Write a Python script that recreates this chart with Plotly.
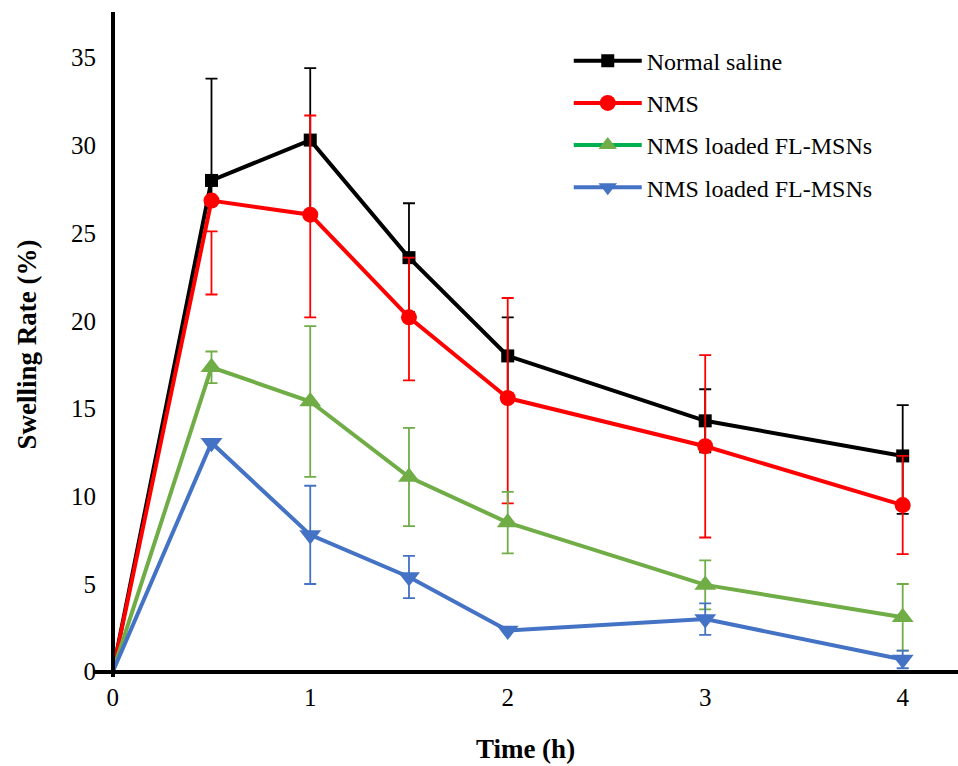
import plotly.graph_objects as go

time_h = [0, 0.5, 1, 1.5, 2, 3, 4]

saline = [0, 28.0, 30.3, 23.6, 18.0, 14.3, 12.3]
saline_err_plus = [0, 5.8, 4.1, 3.1, 2.2, 1.8, 2.9]
saline_err_minus = [0, 1.0, 4.1, 3.1, 2.2, 1.8, 3.3]

nms = [0, 26.85, 26.05, 20.2, 15.6, 12.85, 9.5]
nms_err_plus = [0, -1.75, 5.65, 3.4, 5.7, 5.2, 2.8]
nms_err_minus = [0, 5.35, 5.85, 3.6, 6.0, 5.2, 2.8]

fl_msns_a = [0, 17.35, 15.4, 11.1, 8.5, 4.95, 3.1]
fl_msns_a_err = [0, 0.9, 4.3, 2.8, 1.75, 1.4, 1.9]

fl_msns_b = [0, 13.05, 7.8, 5.4, 2.35, 3.0, 0.7]
fl_msns_b_err = [0, 0, 2.8, 1.2, 0, 0.9, 0.5]

names = ["Normal saline", "NMS", "NMS loaded FL-MSNs", "NMS loaded FL-MSNs"]
line_colors = ["#000000", "#FF0000", "#70AD47", "#4472C4"]
legend_line_colors = ["#000000", "#FF0000", "#00B050", "#4472C4"]
symbols = ["square", "circle", "triangle-up", "triangle-down"]
msizes = [13, 16, 19, 19]

series = [
    (saline, saline_err_plus, saline_err_minus),
    (nms, nms_err_plus, nms_err_minus),
    (fl_msns_a, fl_msns_a_err, fl_msns_a_err),
    (fl_msns_b, fl_msns_b_err, fl_msns_b_err),
]

fig = go.Figure()
for i, (vals, ep, em) in enumerate(series):
    # no marker drawn at the origin point (as in the original)
    sizes = [0 if t == 0 else msizes[i] for t in time_h]
    fig.add_trace(go.Scatter(
        x=time_h, y=vals, mode="lines+markers", showlegend=False,
        line=dict(color=line_colors[i], width=4),
        marker=dict(symbol=symbols[i], size=sizes, color=line_colors[i],
                    opacity=1, line=dict(width=0)),
        error_y=dict(type="data", symmetric=False, array=ep, arrayminus=em,
                     color=line_colors[i], thickness=1.8, width=6),
        cliponaxis=False,
    ))

for i in range(4):
    fig.add_trace(go.Scatter(
        x=[None], y=[None], mode="lines+markers", name=names[i],
        legendgroup=f"g{i}",
        line=dict(color=legend_line_colors[i], width=4),
        marker=dict(symbol=symbols[i], size=msizes[i], color=line_colors[i],
                    opacity=1, line=dict(width=0)),
    ))

serif = "Liberation Serif"
fig.update_layout(
    width=958, height=766,
    margin=dict(l=93, r=0, t=12, b=89),
    plot_bgcolor="white", paper_bgcolor="white",
    font=dict(family=serif, color="black", size=24),
    showlegend=True,
    legend=dict(x=0.55, y=0.96, xanchor="left", yanchor="top",
                font=dict(family=serif, size=24, color="black"),
                tracegroupgap=8, itemwidth=68, bgcolor="rgba(0,0,0,0)"),
    xaxis=dict(range=[-0.1, 4.28], tickvals=[0, 1, 2, 3, 4],
               showgrid=False, zeroline=False, showline=True,
               linecolor="black", linewidth=4, ticks="",
               anchor="free", position=0.0075,
               ticklabelstandoff=2,
               tickfont=dict(family=serif, size=25),
               title=dict(text="<b>Time (h)</b>", font=dict(family=serif, size=27),
                          standoff=28)),
    yaxis=dict(range=[-0.3, 37.6], tickvals=[0, 5, 10, 15, 20, 25, 30, 35],
               showgrid=False, zeroline=False, showline=True,
               linecolor="black", linewidth=4, ticks="",
               anchor="free", position=0.0231,
               ticklabelstandoff=10,
               tickfont=dict(family=serif, size=25),
               title=dict(text="<b>Swelling Rate (%)</b>", font=dict(family=serif, size=27),
                          standoff=26)),
)

fig.write_html("out.html")
